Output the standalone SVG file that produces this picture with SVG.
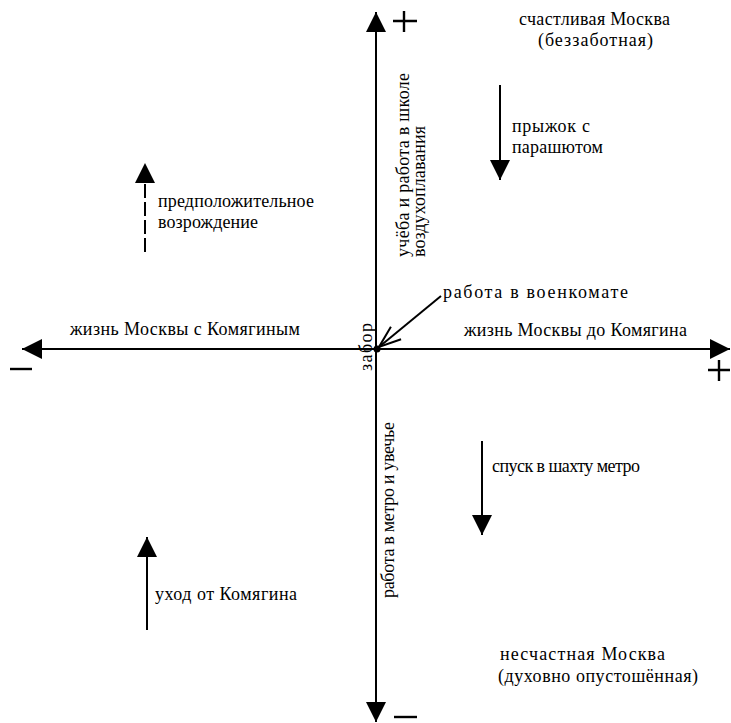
<svg xmlns="http://www.w3.org/2000/svg" width="731" height="723" viewBox="0 0 731 723" font-family="'Liberation Serif', 'Times New Roman', serif">
<defs>
<marker id="tri" markerUnits="userSpaceOnUse" markerWidth="20" markerHeight="20" refX="20" refY="10" orient="auto-start-reverse" viewBox="0 0 20 20">
<path d="M0,0 L20,10 L0,20 Z" fill="#000"/>
</marker>
<marker id="open" markerUnits="userSpaceOnUse" markerWidth="26" markerHeight="20" refX="24" refY="10" orient="auto" viewBox="0 0 26 20">
<path d="M2,2 L24,10 L2,18" fill="none" stroke="#000" stroke-width="2"/>
</marker>
<style>
.t{font-family:'Liberation Serif','Times New Roman',serif;font-size:18px;fill:#000}
.ax{stroke:#000;stroke-width:2;fill:none}
.sign{stroke:#000;stroke-width:2.4;fill:none}
</style>
</defs>
<rect width="731" height="723" fill="#fff"/>
<g id="connectors">
<line id="axis-v" class="ax" x1="376" y1="722" x2="376" y2="12" marker-start="url(#tri)" marker-end="url(#tri)"/>
<line id="axis-h" class="ax" x1="22" y1="349" x2="730" y2="349" marker-start="url(#tri)" marker-end="url(#tri)"/>
<line id="arr-parachute" class="ax" x1="500" y1="85" x2="500" y2="180" marker-end="url(#tri)"/>
<line id="arr-metro" class="ax" x1="482" y1="441" x2="482" y2="535" marker-end="url(#tri)"/>
<line id="arr-ukhod" class="ax" x1="147" y1="630" x2="147" y2="537" marker-end="url(#tri)"/>
<line id="arr-revival" class="ax" x1="145" y1="252" x2="145" y2="163" stroke-dasharray="14 4" marker-end="url(#tri)"/>
<line id="arr-voenkomat" class="ax" x1="441" y1="296" x2="379" y2="347" marker-end="url(#open)"/>
</g>
<g id="signs">
<path class="sign" d="M393,21 H417 M404,11 V32"/>
<path class="sign" d="M708,370 H730 M719,360 V381"/>
<path class="sign" d="M10,369 H32"/>
<path class="sign" d="M394,717 H417"/>
</g>
<g id="center">
<circle cx="377" cy="349" r="3.5" fill="#000"/>
<text class="t" transform="translate(372,371) rotate(-90)" font-size="16" textLength="48">забор</text>
</g>
<g id="happy">
<text class="t" x="519" y="25" textLength="151">счастливая Москва</text>
<text class="t" x="538" y="46" textLength="115">(беззаботная)</text>
</g>
<g id="unhappy">
<text class="t" x="500" y="660" textLength="165">несчастная Москва</text>
<text class="t" x="498" y="682" textLength="200">(духовно опустошённая)</text>
</g>
<g id="school">
<text class="t" transform="translate(409,257) rotate(-90)" textLength="184">учёба и работа в школе</text>
<text class="t" transform="translate(425,257) rotate(-90)" textLength="131">воздухоплавания</text>
</g>
<g id="metro-work">
<text class="t" transform="translate(394,598) rotate(-90)" textLength="176">работа в метро и увечье</text>
</g>
<g id="voenkomat">
<text class="t" x="443" y="298" textLength="185">работа в военкомате</text>
</g>
<g id="before">
<text class="t" x="464" y="336" textLength="223">жизнь Москвы до Комягина</text>
</g>
<g id="with">
<text class="t" x="70" y="335" textLength="230">жизнь Москвы с Комягиным</text>
</g>
<g id="parachute">
<text class="t" x="512" y="132" textLength="78">прыжок с</text>
<text class="t" x="512" y="153" textLength="91">парашютом</text>
</g>
<g id="metro">
<text class="t" x="492" y="472" font-size="17" textLength="148">спуск в шахту метро</text>
</g>
<g id="ukhod">
<text class="t" x="155" y="600" textLength="142">уход от Комягина</text>
</g>
<g id="revival">
<text class="t" x="158" y="207" textLength="156">предположительное</text>
<text class="t" x="158" y="228" textLength="100">возрождение</text>
</g>
</svg>
